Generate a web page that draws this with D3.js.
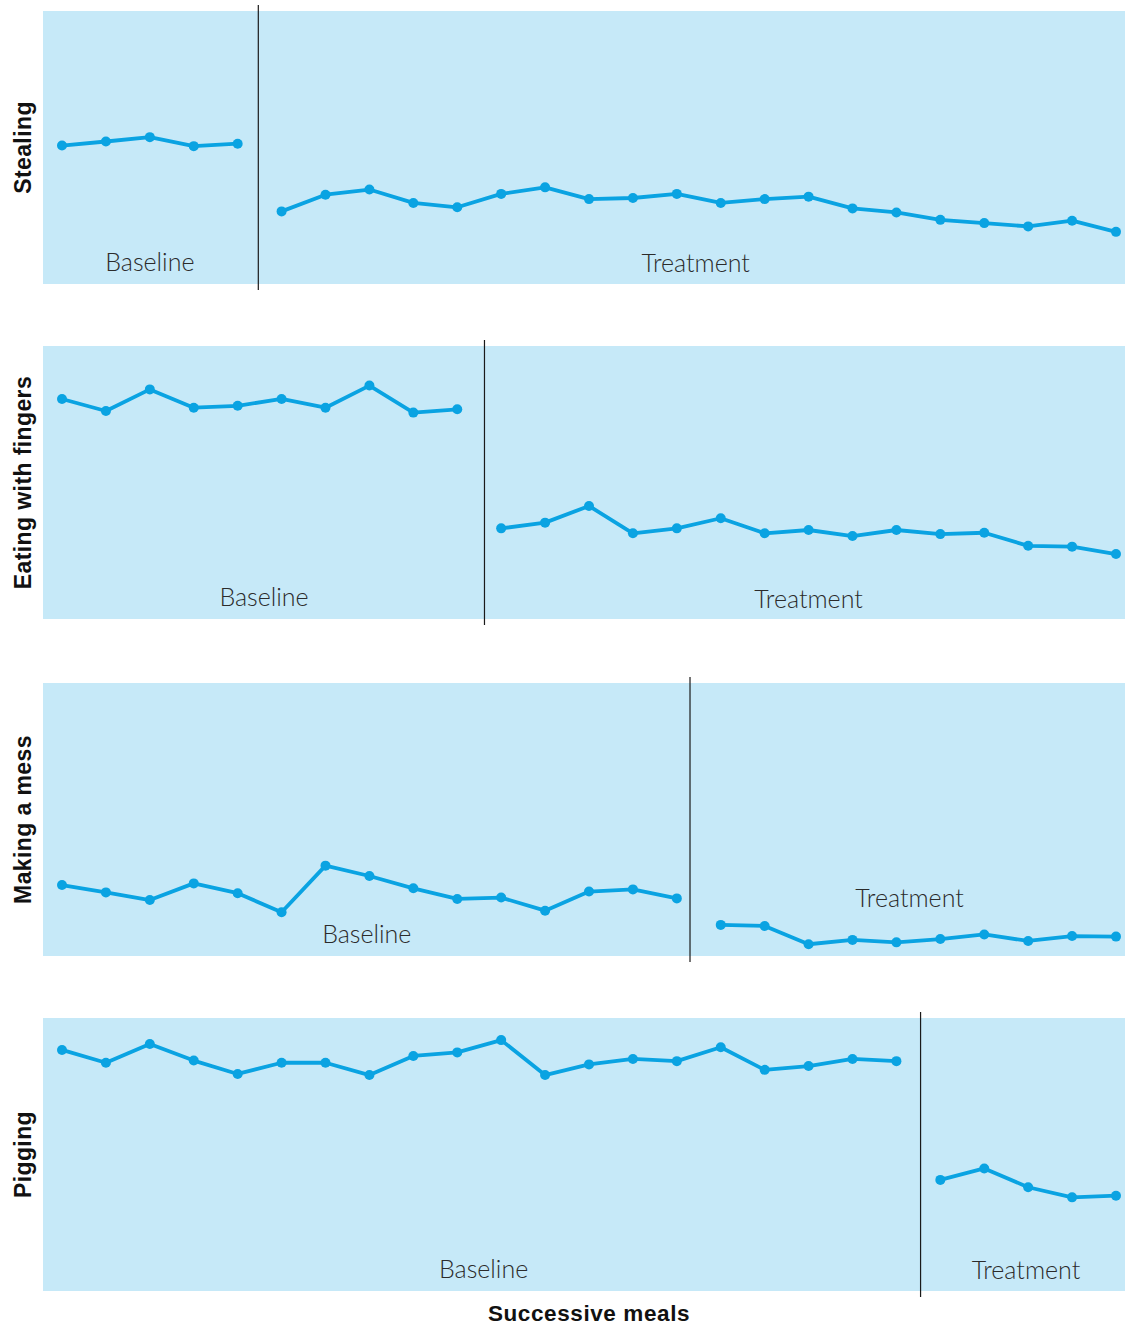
<!DOCTYPE html>
<html>
<head>
<meta charset="utf-8">
<script src="https://cdn.jsdelivr.net/npm/d3@7"></script>
<style>
  html, body { margin: 0; padding: 0; background: #ffffff; }
  svg { display: block; }
</style>
</head>
<body>
<div id="chart"></div>
<script>
// ---------------- DATA ----------------
const behaviours = ["Stealing", "Eating with fingers", "Making a mess", "Pigging"];
const phaseNames = ["Baseline", "Treatment"];
const xAxisTitle = "Successive meals";

// Meal at which each panel's treatment phase begins (first treatment meal)
const treatmentStartMeal = [6, 11, 16, 21];
// Position (in meal units) of the phase-change line in each panel
const phaseChangeAt = [5.47, 10.62, 15.3, 20.55];

// Behaviour level (relative scale 0–100 of the panel height)
const stealingBaseline = [50.7, 52.2, 53.8, 50.5, 51.4];
const stealingTreatment = [26.6, 32.7, 34.6, 29.7, 28.1, 33.0, 35.4, 31.1, 31.5, 33.0,
                           29.7, 31.1, 32.0, 27.7, 26.2, 23.5, 22.3, 21.1, 23.2, 19.1];

const fingersBaseline = [80.6, 76.2, 84.1, 77.4, 78.1, 80.6, 77.4, 85.5, 75.6, 76.8];
const fingersTreatment = [33.2, 35.3, 41.4, 31.4, 33.2, 36.9, 31.4, 32.6, 30.4, 32.6,
                          31.1, 31.6, 26.8, 26.5, 23.8];

const messBaseline = [26.0, 23.3, 20.5, 26.6, 23.0, 16.0, 33.1, 29.3, 24.8, 20.9,
                      21.4, 16.6, 23.6, 24.4, 21.1];
const messTreatment = [11.4, 11.0, 4.3, 5.9, 5.0, 6.2, 7.9, 5.5, 7.3, 7.1];

const piggingBaseline = [88.3, 83.6, 90.5, 84.4, 79.5, 83.6, 83.6, 79.1, 86.1, 87.4,
                         91.9, 79.1, 83.0, 85.0, 84.2, 89.3, 81.0, 82.4, 85.0, 84.2];
const piggingTreatment = [40.7, 44.9, 38.0, 34.3, 34.9];

const baselines = [stealingBaseline, fingersBaseline, messBaseline, piggingBaseline];
const treatments = [stealingTreatment, fingersTreatment, messTreatment, piggingTreatment];

// ---------------- LAYOUT ----------------
const W = 1125, H = 1325;
const panelLeft = 43, panelRight = 1125;
const panelTops = [11, 346, 683, 1018];
const panelH = 273;
// label anchor (meal units) and offset above panel bottom (px) for phase labels
const labelLayout = [
  { b: [3.0, 13], t: [15.43, 12] },
  { b: [5.6, 13], t: [18.0, 11] },
  { b: [7.94, 13], t: [20.3, 49] },
  { b: [10.6, 13], t: [22.95, 12] }
];

const bg = "#c6e9f8";
const lineColor = "#0aa3e2";
const textColor = "#2b2b2b";

const svg = d3.select("#chart").append("svg")
  .attr("width", W).attr("height", H);

const x = d3.scaleLinear().domain([1, 25]).range([62, 1116]);

const line = d3.line().x(d => x(d.meal)).y(d => d.y);

behaviours.forEach((name, i) => {
  const top = panelTops[i];
  const bottom = top + panelH;
  const y = d3.scaleLinear().domain([0, 100]).range([bottom, top]);
  const g = svg.append("g");

  g.append("rect")
    .attr("x", panelLeft).attr("y", top)
    .attr("width", panelRight - panelLeft).attr("height", panelH)
    .attr("fill", bg);

  // Phase-change line
  const lx = x(phaseChangeAt[i]);
  g.append("line")
    .attr("x1", lx).attr("x2", lx)
    .attr("y1", top - 6).attr("y2", bottom + 6)
    .attr("stroke", "#1a1a1a").attr("stroke-width", 1.2);

  const start = treatmentStartMeal[i];
  const segs = [
    baselines[i].map((v, k) => ({ meal: 1 + k, y: y(v) })),
    treatments[i].map((v, k) => ({ meal: start + k, y: y(v) }))
  ];

  segs.forEach(pts => {
    g.append("path")
      .attr("d", line(pts))
      .attr("fill", "none")
      .attr("stroke", lineColor)
      .attr("stroke-width", 3.8)
      .attr("stroke-linejoin", "round");
    g.selectAll(null).data(pts).enter().append("circle")
      .attr("cx", d => x(d.meal)).attr("cy", d => d.y)
      .attr("r", 5)
      .attr("fill", lineColor);
  });

  // Phase labels
  const L = labelLayout[i];
  [[phaseNames[0], L.b], [phaseNames[1], L.t]].forEach(([txt, pos]) => {
    g.append("text")
      .attr("x", x(pos[0])).attr("y", bottom - pos[1])
      .attr("text-anchor", "middle")
      .attr("font-family", "Lato, Roboto, 'Liberation Sans', sans-serif")
      .attr("font-weight", 300)
      .attr("font-size", 25)
      .attr("fill", textColor)
      .text(txt);
  });

  // Behaviour label (rotated)
  const cy = top + panelH / 2;
  svg.append("text")
    .attr("transform", `translate(31,${cy}) rotate(-90)`)
    .attr("text-anchor", "middle")
    .attr("font-family", "'Liberation Sans', Arial, sans-serif")
    .attr("font-weight", "bold")
    .attr("font-size", 23)
    .attr("letter-spacing", 0.4)
    .attr("fill", "#111")
    .text(name);
});

svg.append("text")
  .attr("x", 589).attr("y", 1321)
  .attr("text-anchor", "middle")
  .attr("font-family", "'Liberation Sans', Arial, sans-serif")
  .attr("font-weight", "bold")
  .attr("font-size", 22.5)
  .attr("letter-spacing", 0.6)
  .attr("fill", "#111")
  .text(xAxisTitle);
</script>
</body>
</html>
